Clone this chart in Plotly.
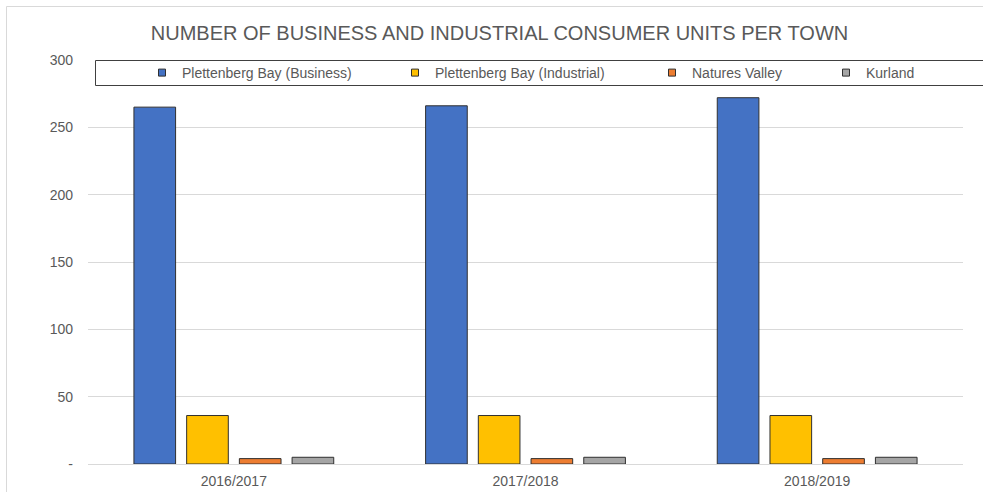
import plotly.graph_objects as go

categories = ["2016/2017", "2017/2018", "2018/2019"]
series_names = ["Plettenberg Bay (Business)", "Plettenberg Bay (Industrial)", "Natures Valley", "Kurland"]
plett_business = [265, 266, 272]
plett_industrial = [36, 36, 36]
natures_valley = [4, 4, 4]
kurland = [5, 5, 5]
y_tick_vals = [0, 50, 100, 150, 200, 250, 300]
y_tick_text = ["-", "50", "100", "150", "200", "250", "300"]
title_text = "NUMBER OF BUSINESS AND INDUSTRIAL CONSUMER UNITS PER TOWN"

colors = ["#4472C4", "#FFC000", "#ED7D31", "#A5A5A5"]
series_values = [plett_business, plett_industrial, natures_valley, kurland]

W, H = 983, 492
L, R, T, B = 88, 20, 60, 28
PW, PH = W - L - R, H - T - B


def px_x(px):
    return (px - L) / PW


def px_y(py):
    return (H - B - py) / PH


FONT = "Liberation Sans, Arial, sans-serif"
TXT = "#595959"

fig = go.Figure()
for name, vals, col in zip(series_names, series_values, colors):
    fig.add_trace(go.Bar(
        x=categories, y=vals, name=name, showlegend=False,
        marker=dict(color=col, line=dict(color="#303030", width=1)),
    ))

legend_ids = ["legend", "legend2", "legend3", "legend4"]
legend_text_x = [182, 435, 692, 866]
for name, col, lid in zip(series_names, colors, legend_ids):
    fig.add_trace(go.Scatter(
        x=[None], y=[None], name=name, mode="markers", legend=lid,
        marker=dict(symbol="square", size=7, color=col, line=dict(color="#303030", width=1)),
    ))

layout_legends = {}
for lid, tx in zip(legend_ids, legend_text_x):
    layout_legends[lid] = dict(
        x=px_x(tx - 40), xanchor="left", y=px_y(73), yanchor="middle",
        orientation="h", bgcolor="rgba(0,0,0,0)", borderwidth=0,
        font=dict(family=FONT, size=14, color=TXT),
    )

fig.update_layout(
    width=W, height=H,
    margin=dict(l=L, r=R, t=T, b=B, pad=0, autoexpand=False),
    paper_bgcolor="white", plot_bgcolor="white",
    barmode="group", bargap=0.277, bargroupgap=0.21,
    title=dict(text=title_text, x=499.5 / W, xref="container", xanchor="center",
               y=1 - 33 / H, yref="container", yanchor="middle",
               font=dict(family=FONT, size=20, color=TXT)),
    xaxis=dict(type="category", showgrid=False, showline=False, zeroline=False,
               tickfont=dict(family=FONT, size=14, color=TXT), ticks="",
               ticklabelstandoff=7, automargin=False),
    yaxis=dict(range=[0, 300], tickvals=y_tick_vals, ticktext=y_tick_text,
               showgrid=True, gridcolor="#D9D9D9", gridwidth=1,
               zeroline=True, zerolinecolor="#D9D9D9", zerolinewidth=1,
               showline=False, ticks="", ticklabelstandoff=14, automargin=False,
               tickfont=dict(family=FONT, size=14, color=TXT)),
    shapes=[
        dict(type="rect", xref="paper", yref="paper",
             x0=px_x(6.5), x1=px_x(W + 10), y0=px_y(H + 10), y1=px_y(6.5),
             line=dict(color="#D9D9D9", width=1), fillcolor="rgba(0,0,0,0)", layer="below"),
        dict(type="rect", xref="paper", yref="paper",
             x0=px_x(95.5), x1=px_x(W + 10), y0=px_y(85.5), y1=px_y(60.5),
             line=dict(color="#404040", width=1), fillcolor="white", layer="above"),
    ],
    **layout_legends,
)

fig.write_html("out.html")
